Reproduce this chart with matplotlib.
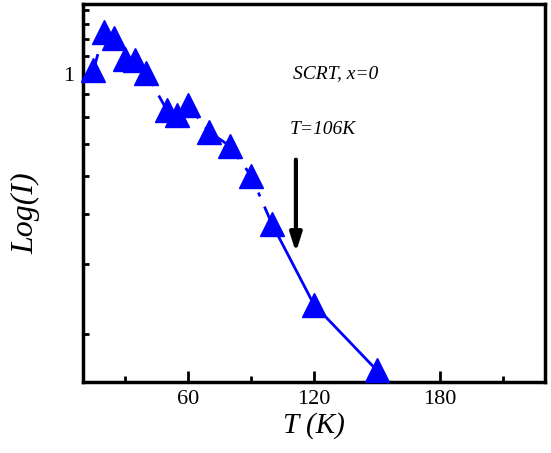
import numpy as np
import matplotlib.pyplot as plt
from matplotlib.ticker import FixedLocator, NullFormatter, FixedFormatter

# data
temp = [15, 20, 25, 30, 35, 40, 50, 55, 60, 70, 80, 90, 100, 120, 150]
intensity = [1.02, 1.25, 1.21, 1.08, 1.075, 1.005, 0.83, 0.81, 0.852,
             0.744, 0.693, 0.60, 0.478, 0.337, 0.262]
split = 12  # dashed up to T=100, solid after

x_major = [60, 120, 180]
x_minor = [30, 90, 150, 210]
y_minor = [0.3, 0.4, 0.5, 0.6, 0.7, 0.8, 0.9, 1.1, 1.2, 1.3, 1.4]

plt.rcParams['font.family'] = 'Liberation Serif'

fig = plt.figure(figsize=(5.51, 4.53), dpi=100)
ax = fig.add_axes([0.1506, 0.1567, 0.8384, 0.8345])

off = 0.1
ax.set_yscale('function', functions=(lambda v: np.log10(np.clip(v - off, 1e-6, None)),
                                     lambda y: 10 ** y + off))

ax.plot(temp[:split + 1], intensity[:split + 1], color='#0000ff', lw=2,
        dashes=(6, 4, 1.5, 4), zorder=2)
ax.plot(temp[split:], intensity[split:], color='#0000ff', lw=2, zorder=2)
ax.plot(temp, intensity, ls='none', marker='^', ms=17, color='#0000ff',
        mec='#0000ff', zorder=3, clip_on=False)

ax.set_xlim(10, 230)
ax.set_ylim(0.2515, 1.449)

ax.xaxis.set_major_locator(FixedLocator(x_major))
ax.xaxis.set_minor_locator(FixedLocator(x_minor))
ax.yaxis.set_major_locator(FixedLocator([1]))
ax.yaxis.set_major_formatter(FixedFormatter(['1']))
ax.yaxis.set_minor_locator(FixedLocator(y_minor))
ax.yaxis.set_minor_formatter(NullFormatter())

ax.tick_params(which='both', direction='in', width=2, labelsize=16,
               top=False, right=False)
ax.tick_params(which='major', length=8, pad=6)
ax.tick_params(which='minor', length=4)
for s in ax.spines.values():
    s.set_linewidth(2.5)

ax.set_xlabel('T (K)', fontsize=21, style='italic', labelpad=2)
ax.set_ylabel('Log(I)', fontsize=23, style='italic')
ax.yaxis.set_label_coords(-0.092, 0.447)

ax.text(110, 1.0, 'SCRT, x=0', fontsize=14, style='italic', va='center')
ax.text(108.3, 0.751, 'T=106K', fontsize=14, style='italic', va='center')
ax.annotate('', xy=(111.4, 0.4157), xytext=(111.4, 0.657),
            arrowprops=dict(arrowstyle='-|>,head_length=1.1,head_width=0.35',
                            color='black', lw=3))

fig.savefig('out.png', dpi=100)
